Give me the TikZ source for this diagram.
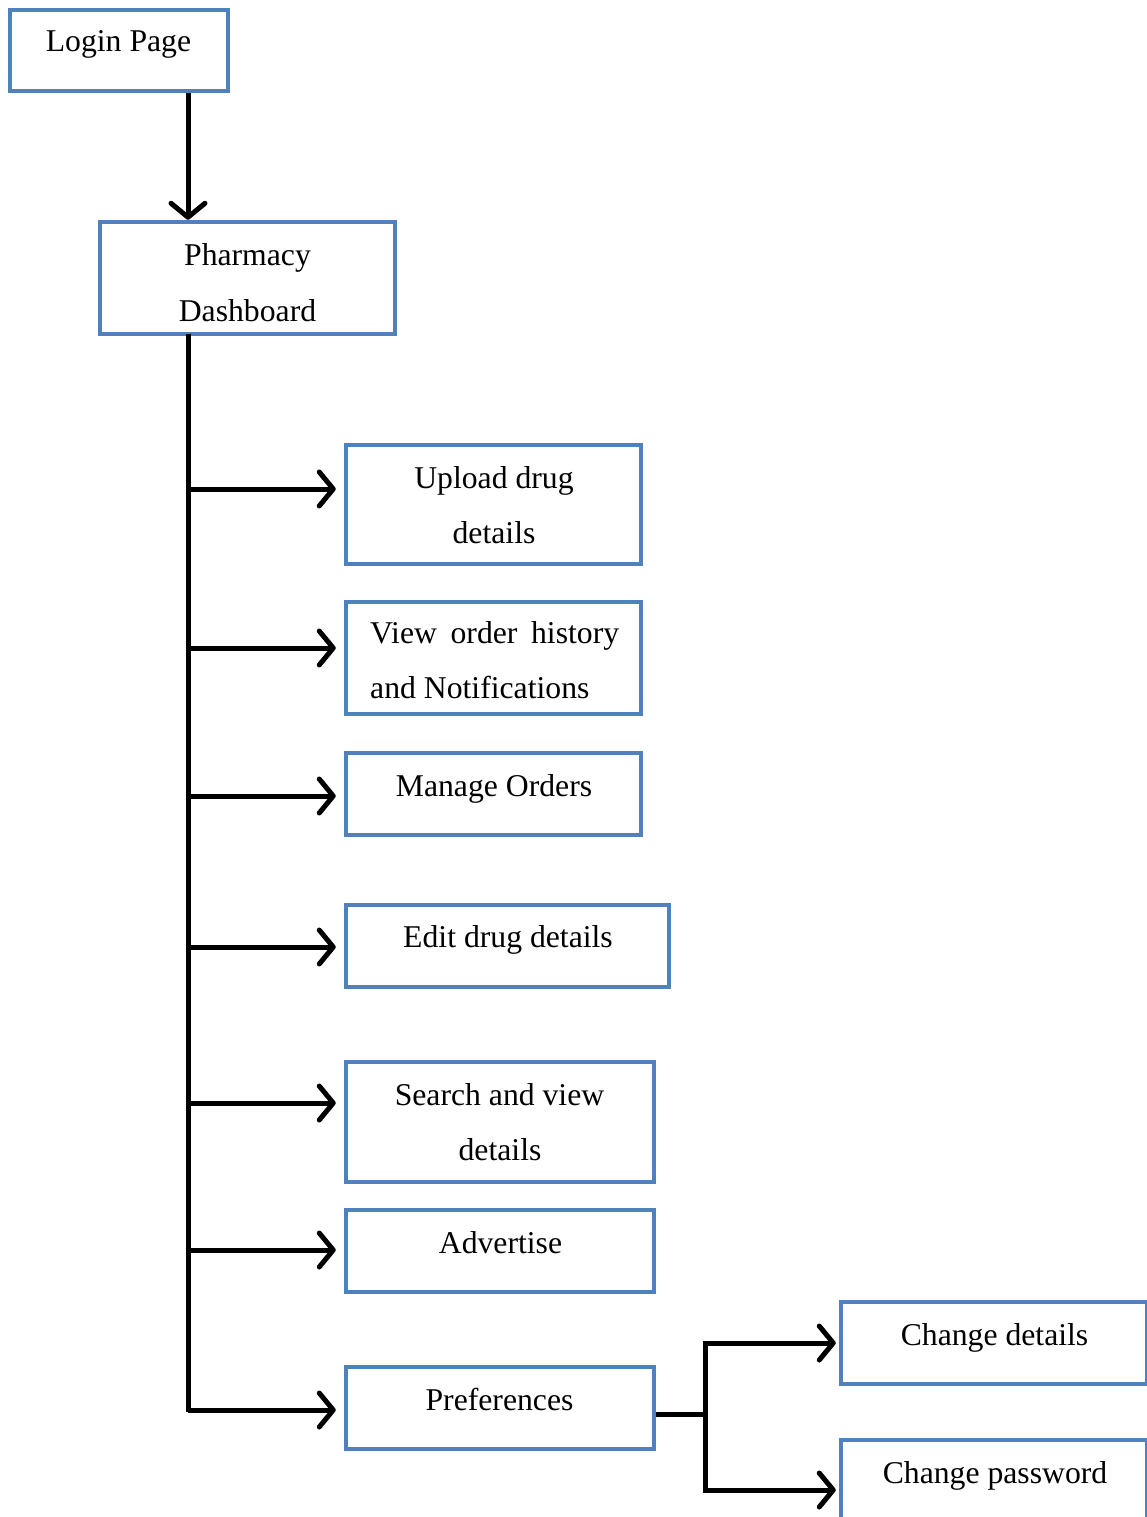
\documentclass[tikz,border=0pt]{standalone}
\usepackage{fontspec}
\setmainfont{Liberation Serif}
\usetikzlibrary{arrows.meta}
\definecolor{boxblue}{RGB}{79,129,189}
\begin{document}
\begin{tikzpicture}[x=1pt,y=-1pt,
  box/.style={draw=boxblue,line width=4.5pt,rectangle,inner sep=0pt},
  txt/.style={inner sep=0pt,anchor=base,font=\fontsize{31.7}{38}\selectfont},
  conn/.style={line width=5pt,-{Straight Barb[length=14pt,width=34pt,line width=5pt,round]}},
  plain/.style={line width=5pt}]
\useasboundingbox (0,0) rectangle (1147,1517);
% boxes
\node[box,minimum width=218pt,minimum height=81pt] (login) at (119,50.5) {};
\node[box,minimum width=295pt,minimum height=112pt] (dash) at (247.5,278) {};
\node[box,minimum width=295pt,minimum height=119pt] (upload) at (493.5,504.5) {};
\node[box,minimum width=295pt,minimum height=112pt] (view) at (493.5,658) {};
\node[box,minimum width=295pt,minimum height=82pt] (manage) at (493.5,794) {};
\node[box,minimum width=323pt,minimum height=82pt] (edit) at (507.5,946) {};
\node[box,minimum width=308pt,minimum height=120pt] (search) at (500,1122) {};
\node[box,minimum width=308pt,minimum height=82pt] (advert) at (500,1251) {};
\node[box,minimum width=308pt,minimum height=82pt] (prefs) at (500,1408) {};
\node[box,minimum width=306pt,minimum height=82pt] (chdet) at (994,1343) {};
\node[box,minimum width=306pt,minimum height=90pt] (chpw) at (994,1485) {};
% texts
\node[txt] at (118.5,52) {Login Page};
\node[txt] at (247.5,265) {Pharmacy};
\node[txt] at (247.5,321) {Dashboard};
\node[txt] at (494,488) {Upload drug};
\node[txt] at (494,543) {details};
\node[txt,anchor=base west] at (370,643) {\makebox[249pt][s]{View order history}};
\node[txt,anchor=base west] at (370,698) {and Notifications};
\node[txt] at (494,796) {Manage Orders};
\node[txt] at (508,947) {Edit drug details};
\node[txt] at (499.5,1105) {Search and view};
\node[txt] at (500,1160) {details};
\node[txt] at (500.5,1253) {Advertise};
\node[txt] at (499.5,1410) {Preferences};
\node[txt] at (994.5,1345) {Change details};
\node[txt] at (995,1483) {Change password};
% connectors
\coordinate (trunkTop) at (188,334);
\coordinate (trunkBot) at (188,1412);
\draw[conn] (login.south -| trunkTop) -- (dash.north -| trunkTop);
\draw[plain] (trunkTop) -- (trunkBot);
\foreach \n/\y in {upload/489,view/648,manage/796,edit/947,search/1103,advert/1250,prefs/1410}{
  \coordinate (b\n) at (188,\y);
  \draw[conn] (b\n) -- ([xshift=-8pt]\n.west |- b\n);
}
\coordinate (split) at (705,1414);
\draw[plain] (prefs.east |- split) -- (split);
\coordinate (splitTop) at (705,1343);
\coordinate (splitBot) at (705,1490);
\draw[plain] (splitTop) -- (splitBot);
\draw[conn] ([xshift=-2.5pt]splitTop) -- ([xshift=-3pt]chdet.west |- splitTop);
\draw[conn] ([xshift=-2.5pt]splitBot) -- ([xshift=-3pt]chpw.west |- splitBot);
\end{tikzpicture}
\end{document}
